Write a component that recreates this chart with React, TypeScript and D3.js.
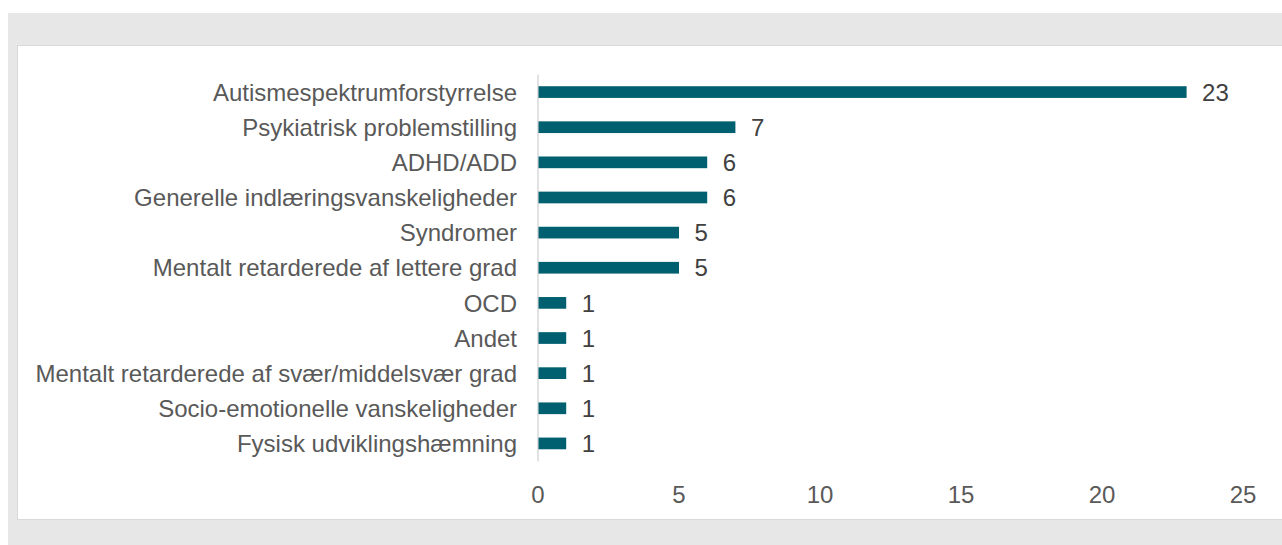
import React from "react";
import * as d3 from "d3";

const categories = [
  "Autismespektrumforstyrrelse",
  "Psykiatrisk problemstilling",
  "ADHD/ADD",
  "Generelle indlæringsvanskeligheder",
  "Syndromer",
  "Mentalt retarderede af lettere grad",
  "OCD",
  "Andet",
  "Mentalt retarderede af svær/middelsvær grad",
  "Socio-emotionelle vanskeligheder",
  "Fysisk udviklingshæmning",
];
const values = [23, 7, 6, 6, 5, 5, 1, 1, 1, 1, 1];
const xTicks = [0, 5, 10, 15, 20, 25];

const W = 1282;
const H = 545;
const FONT = "'Liberation Sans', Arial, sans-serif";

export default function App() {
  const x = d3.scaleLinear().domain([0, 25]).range([538, 1243]);
  const y = d3.scaleBand<string>().domain(categories).range([74.5, 461]).padding(0);
  const barH = y.step() * 0.333;

  return (
    <svg
      width={W}
      height={H}
      style={{ position: "absolute", left: 0, top: 0 }}
      fontFamily={FONT}
    >
      <rect x={0} y={0} width={W} height={H} fill="#ffffff" />
      <rect x={8} y={13} width={W - 8} height={H - 13} fill="#e7e7e7" />
      <rect
        x={17.5}
        y={45.5}
        width={W + 20}
        height={474}
        fill="#ffffff"
        stroke="#d9d9d9"
        strokeWidth={1}
      />
      <line
        x1={x(0)}
        x2={x(0)}
        y1={74.5}
        y2={461.5}
        stroke="#d9d9d9"
        strokeWidth={1.5}
      />
      {categories.map((c, i) => {
        const cy = (y(c) as number) + y.step() / 2;
        return (
          <g key={c}>
            <rect
              x={x(0) + 0.5}
              y={cy - barH / 2}
              width={x(values[i]) - x(0) - 0.5}
              height={barH}
              fill="#00606f"
            />
            <text
              x={517}
              y={cy}
              dy="0.36em"
              textAnchor="end"
              fontSize={24}
              fill="#595959"
            >
              {c}
            </text>
            <text
              x={x(values[i]) + 15.5}
              y={cy}
              dy="0.36em"
              textAnchor="start"
              fontSize={24}
              fill="#404040"
            >
              {values[i]}
            </text>
          </g>
        );
      })}
      {xTicks.map((t) => (
        <text
          key={t}
          x={x(t)}
          y={502.5}
          textAnchor="middle"
          fontSize={24}
          fill="#595959"
        >
          {t}
        </text>
      ))}
    </svg>
  );
}
